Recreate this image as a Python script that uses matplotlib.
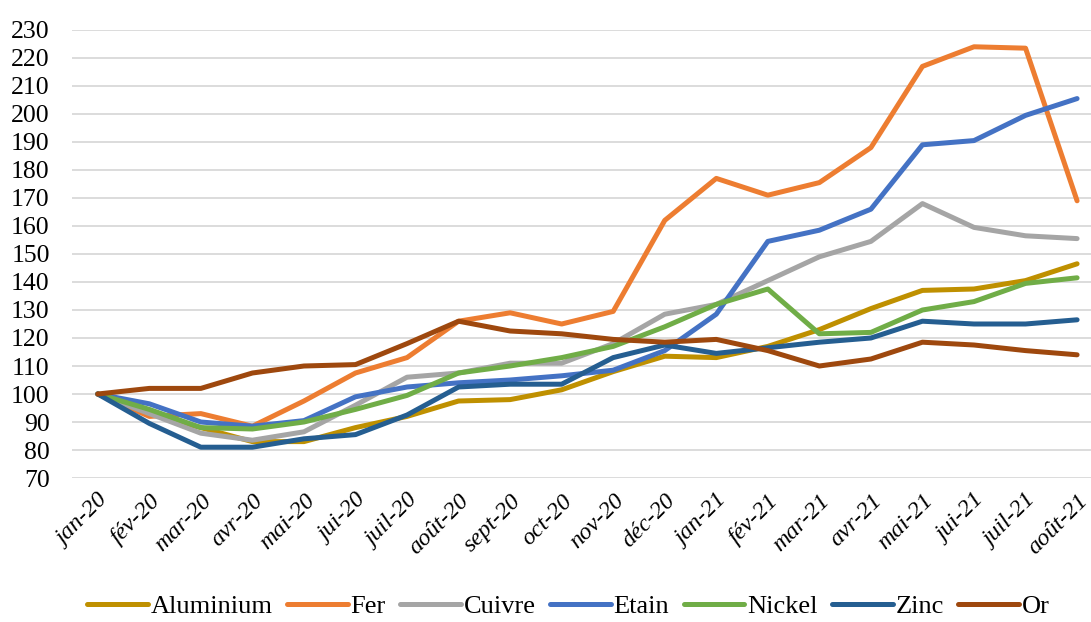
import matplotlib.pyplot as plt

months = ["jan-20", "fév-20", "mar-20", "avr-20", "mai-20", "jui-20", "juil-20",
          "août-20", "sept-20", "oct-20", "nov-20", "déc-20", "jan-21", "fév-21",
          "mar-21", "avr-21", "mai-21", "jui-21", "juil-21", "août-21"]

aluminium = [100, 93, 88, 83, 83, 88, 92, 97.5, 98, 101.5, 108, 113.5, 113, 117,
             123, 130.5, 137, 137.5, 140.5, 146.5]
fer = [100, 92, 93, 88.5, 97.5, 107.5, 113, 126, 129, 125, 129.5, 162, 177, 171,
       175.5, 188, 217, 224, 223.5, 169]
cuivre = [100, 93, 86, 83.5, 86.5, 96, 106, 107.5, 111, 111, 118, 128.5, 132, 140.5,
          149, 154.5, 168, 159.5, 156.5, 155.5]
etain = [100, 96.5, 90, 88.5, 90.5, 99, 102.5, 104, 105, 106.5, 108.5, 115.5, 128.5,
         154.5, 158.5, 166, 189, 190.5, 199.5, 205.5]
nickel = [100, 94.5, 88, 87.5, 90, 94.5, 99.5, 107.5, 110, 113, 117, 124, 132, 137.5,
          121.5, 122, 130, 133, 139.5, 141.5]
zinc = [100, 89.5, 81, 81, 84, 85.5, 92.5, 102.5, 103.5, 103.5, 113, 117.5, 114.5,
        116.5, 118.5, 120, 126, 125, 125, 126.5]
gold = [100, 102, 102, 107.5, 110, 110.5, 118, 126, 122.5, 121.5, 119.5, 118.5, 119.5,
        115.5, 110, 112.5, 118.5, 117.5, 115.5, 114]

series = [("Aluminium", aluminium, "#BF9000"),
          ("Fer", fer, "#ED7D31"),
          ("Cuivre", cuivre, "#A5A5A5"),
          ("Etain", etain, "#4472C4"),
          ("Nickel", nickel, "#70AD47"),
          ("Zinc", zinc, "#255E91"),
          ("Or", gold, "#9E480E")]

plt.rcParams['font.family'] = ['Liberation Serif', 'DejaVu Serif']

fig = plt.figure(figsize=(10.91, 6.22), dpi=100)
ax = fig.add_axes([0.066, 0.2315, 0.934, 0.7203])

x = list(range(len(months)))
for name, vals, col in series:
    ax.plot(x, vals, color=col, linewidth=3.6, label=name, solid_capstyle='round',
            solid_joinstyle='round')

ax.set_ylim(70, 230)
ax.set_yticks(range(70, 231, 10))
ax.set_xlim(-0.5, 19.27)
ax.set_xticks(x)
ax.set_xticklabels(months, rotation=45, ha='right', rotation_mode='anchor',
                   fontstyle='italic', fontsize=17.5)
ax.tick_params(axis='y', labelsize=18.5, length=0, pad=16)
ax.tick_params(axis='x', length=0, pad=9)
ax.grid(axis='y', color='#d9d9d9', linewidth=1.3)
ax.set_axisbelow(True)
for s in ax.spines.values():
    s.set_visible(False)

fig.legend(loc='center', bbox_to_anchor=(0.521, 0.025), ncol=7, frameon=False,
           fontsize=19, handlelength=2.3, columnspacing=0.55, handletextpad=0.1)

fig.savefig("out.png", dpi=100)
